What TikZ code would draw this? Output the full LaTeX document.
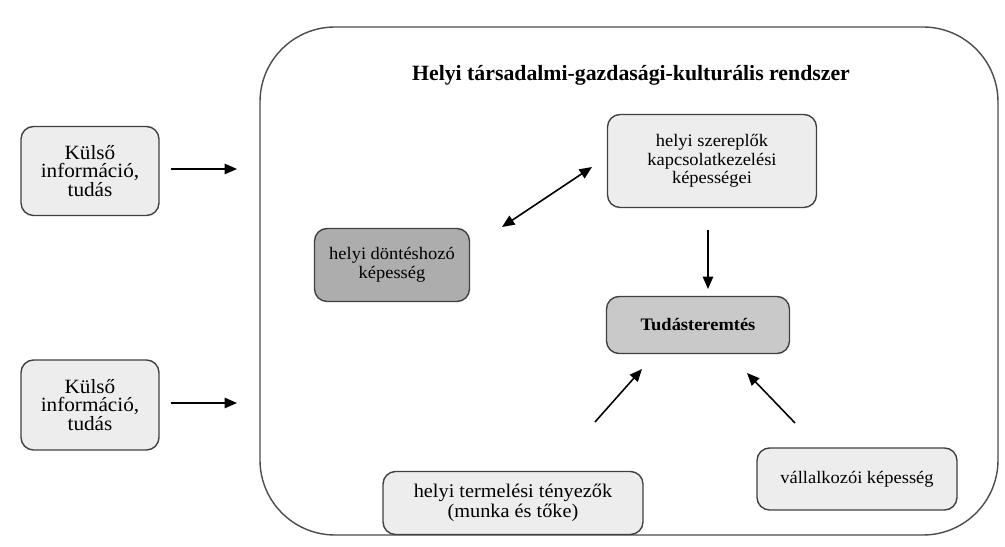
\documentclass[tikz,border=0pt]{standalone}
\usepackage{fontspec}
\setmainfont{Liberation Serif}[FakeStretch=1.05]
\newfontfamily\cimfont{Liberation Serif}
\usepackage{tikz}
\usetikzlibrary{arrows.meta,positioning}
\tikzset{
    >={Triangle[length=2.5mm,width=2.1mm]},
    doboz/.style={
        rectangle,
        rounded corners=2.5mm,
        draw=black!75, line width=0.8pt,
        fill=black!7,
        align=center,
        inner sep=2pt,
        font={\fontsize{10pt}{10.5pt}\selectfont}
    },
    nagybetu/.style={font={\fontsize{11.5pt}{10.5pt}\selectfont}},
    sotetdoboz/.style={doboz, fill=black!32},
    kozepdoboz/.style={doboz, fill=black!21},
    keret/.style={draw=black!70, line width=0.8pt, rounded corners=1.5cm},
    nyil/.style={draw, line width=0.9pt, ->},
    kettosnyil/.style={draw, line width=0.9pt, <->},
}

\begin{document}
\begin{tikzpicture}[x=0.02cm, y=-0.02cm]
    \useasboundingbox (0,0) rectangle (1005,547);
    % kulso keret
    \draw[keret] (260,27) rectangle (998,535);
    \node (cim) at (631,75) {\cimfont\fontsize{12.4pt}{14pt}\selectfont\bfseries Helyi társadalmi-gazdasági-kulturális rendszer};

    \node[doboz, nagybetu, minimum width=2.76cm, minimum height=1.78cm] (kulso1) at (90,171) {Külső\\információ,\\tudás};
    \node[doboz, nagybetu, minimum width=2.76cm, minimum height=1.80cm] (kulso2) at (90,405) {Külső\\információ,\\tudás};
    \node[sotetdoboz, minimum width=3.1cm, minimum height=1.46cm] (dontes) at (392,265) {helyi döntéshozó\\képesség};
    \node[doboz, minimum width=4.18cm, minimum height=1.86cm] (szereplok) at (712,161) {helyi szereplők\\kapcsolatkezelési\\képességei};
    \node[kozepdoboz, minimum width=3.66cm, minimum height=1.14cm] (tudas) at (698,325) {\bfseries Tudásteremtés};
    \node[doboz, font={\fontsize{11pt}{11pt}\selectfont}, minimum width=5.2cm, minimum height=1.26cm] (termeles) at (513,503) {helyi termelési tényezők\\(munka és tőke)};
    \node[doboz, minimum width=4cm, minimum height=1.24cm] (vallalkozo) at (857,479) {vállalkozói képesség};

    \coordinate (be1) at (237,169);
    \coordinate (be2) at (237,403);
    \coordinate (dontesveg) at (502,227);
    \coordinate (szereplokveg) at (592,167);
    \coordinate (le1) at (708,230);
    \coordinate (le2) at (708,289);
    \coordinate (ter1) at (595,422);
    \coordinate (ter2) at (642,369);
    \coordinate (val1) at (795,423);
    \coordinate (val2) at (747,373);

    \draw[nyil, shorten <=0.22cm] (kulso1.east |- be1) -- (be1);
    \draw[nyil, shorten <=0.22cm] (kulso2.east |- be2) -- (be2);
    \draw[kettosnyil] (dontesveg) -- (szereplokveg);
    \draw[nyil] (le1) -- (le2);
    \draw[nyil] (ter1) -- (ter2);
    \draw[nyil] (val1) -- (val2);
\end{tikzpicture}
\end{document}
